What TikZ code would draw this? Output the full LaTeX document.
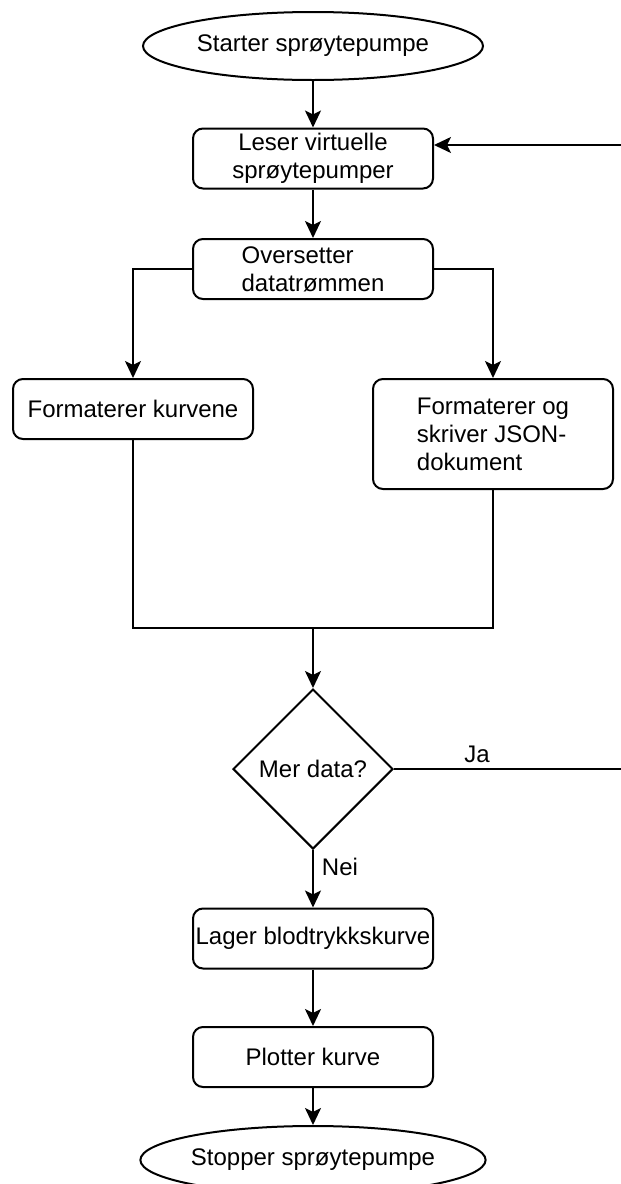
\documentclass[tikz,border=0pt]{standalone}
\usepackage{fontspec}
\setmainfont{Liberation Sans}
\usetikzlibrary{arrows.meta,shapes.geometric}

\begin{document}
\begin{tikzpicture}[x=1pt,y=-1pt,
  every node/.style={font=\fontsize{24}{28}\selectfont, text=black},
  line/.style={draw=black, line width=2pt},
  arr/.style={line, -{Stealth[length=17pt,width=16pt,inset=4pt]}},
  terminal/.style={ellipse, line, minimum width=340pt, minimum height=68pt, inner sep=0pt},
  proc/.style={rectangle, rounded corners=10pt, line, minimum width=240pt, minimum height=60pt, inner sep=0pt},
  decision/.style={diamond, line, minimum width=160pt, minimum height=160pt, inner sep=0pt, aspect=1},
  lbl/.style={inner sep=0pt}
]
\useasboundingbox (0,0) rectangle (621,1184);
\clip (0,0) rectangle (621,1184);

% process nodes
\node[terminal] (start) at (313,46) {Starter sprøytepumpe};
\node[proc] (leser) at (313,158.5) [align=center] {Leser virtuelle\\sprøytepumper};
\node[proc] (overs) at (313,269) [align=left] {Oversetter\\datatrømmen};
\node[proc] (kurv) at (133,409) {Formaterer kurvene};
\node[proc, minimum height=110pt] (json) at (493,434) [align=left] {Formaterer og\\skriver JSON-\\dokument};
\node[decision] (dec) at (313,769) {Mer data?};
\node[proc] (lager) at (313,938.5) {Lager blodtrykkskurve};
\node[proc] (plot) at (313,1057) {Plotter kurve};
\node[terminal] (stop) at (313,1160) {Stopper sprøytepumpe};

% junction and loop points
\coordinate (jl) at (133,628);
\coordinate (jr) at (493,628);
\coordinate (jm) at (313,628);
\coordinate (lb) at (624,769);
\coordinate (lt) at (624,145);

% connectors
\draw[arr] (start) -- (leser);
\draw[arr] (leser) -- (overs);
\draw[arr] (overs.west) -| (kurv.north);
\draw[arr] (overs.east) -| (json.north);
\draw[line] (kurv.south) -- (jl) -- (jr) -- (json.south);
\draw[arr] (jm) -- (dec.north);
\draw[arr] (dec.east) -- (lb) -- (lt) -- (lt -| leser.east);
\draw[arr] (dec.south) -- (lager.north);
\draw[arr] (lager) -- (plot);
\draw[arr] (plot) -- (stop);

% branch labels
\node[lbl] (ja) at (477,754) {Ja};
\node[lbl] (nei) at (340,867) {Nei};
\end{tikzpicture}
\end{document}
